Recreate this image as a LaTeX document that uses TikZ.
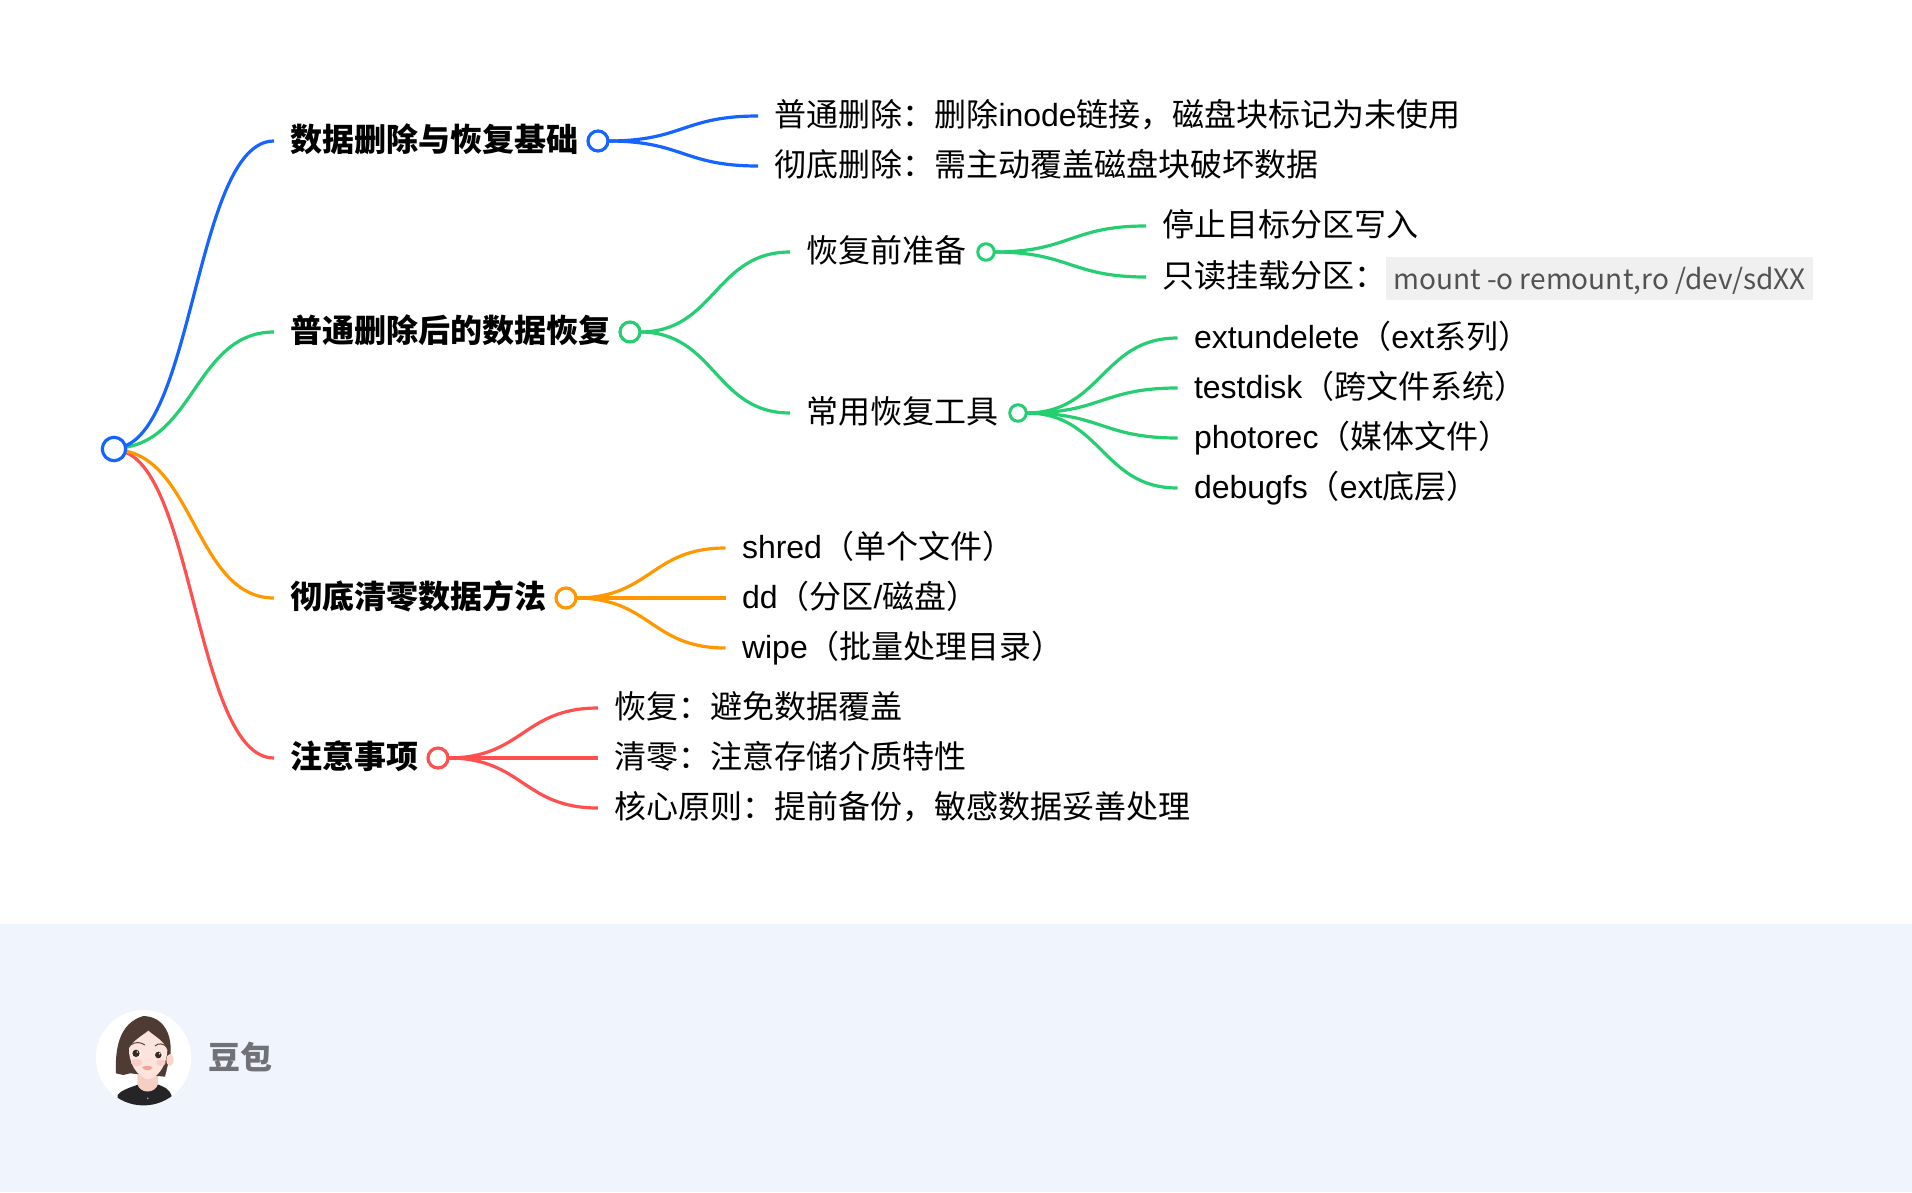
\documentclass[tikz,border=0pt]{standalone}
\usepackage{fontspec}
\usetikzlibrary{calc}
\setmainfont{Noto Sans CJK SC}
\newfontfamily\latfont{Liberation Sans}
\newcommand\lat[1]{{\latfont #1}}
\definecolor{cblue}{HTML}{1664FF}
\definecolor{cgreen}{HTML}{25CF71}
\definecolor{corange}{HTML}{FF9800}
\definecolor{cred}{HTML}{FF5050}
\definecolor{footbg}{HTML}{F0F4FC}
\definecolor{brandgray}{HTML}{707277}
\definecolor{avskin}{HTML}{F6CFC4}
\definecolor{avhair}{HTML}{4E3B34}
\definecolor{avear}{HTML}{FAD6CA}
\definecolor{avface}{HTML}{FCE3DB}
\definecolor{avblush}{HTML}{F9CDC7}
\definecolor{aveye}{HTML}{3A2824}
\definecolor{avbrow}{HTML}{5A443C}
\definecolor{avlip}{HTML}{EFA799}
\definecolor{avtop}{HTML}{252528}
\tikzset{
  lab/.style={anchor=west,inner ysep=0pt,inner xsep=16.5pt,outer sep=0pt,text height=27.5pt,text depth=6.5pt,font=\fontsize{32}{38}\selectfont,text=black},
  lab1/.style={lab,font=\fontsize{32}{38}\selectfont\bfseries,text height=27pt,text depth=7pt},
  dot/.style={circle,draw=#1,line width=3.2pt,fill=white,minimum size=20pt,inner sep=0pt,outer sep=0pt},
  smalldot/.style={circle,draw=#1,line width=3pt,fill=white,minimum size=16.5pt,inner sep=0pt,outer sep=0pt},
  link/.style={draw=#1,line width=3.2pt},
  sc/.style={to path={let \p1=(\tikztostart),\p2=(\tikztotarget) in .. controls ({0.5*\x1+0.5*\x2},\y1) and ({0.5*\x1+0.5*\x2},\y2) .. (\tikztotarget)}}
}
\begin{document}
\begin{tikzpicture}[x=1pt,y=-1pt]
\useasboundingbox (0,0) rectangle (1912,1192);
\fill[white] (0,0) rectangle (1912,1192);
\fill[footbg] (0,924.4) rectangle (1912,1192);

% dots
\coordinate (rootup) at (114,448);
\coordinate (rootdown) at (114,450);
\node[dot=cblue] (d1) at (598,141) {};
\node[dot=cgreen] (d2) at (630,332) {};
\node[dot=corange] (d3) at (566,598) {};
\node[dot=cred] (d4) at (438,758) {};
\node[smalldot=cgreen] (d21) at (986,252) {};
\node[smalldot=cgreen] (d22) at (1018,413) {};

% labels
\node[lab1] (t1) at (274,141) {数据删除与恢复基础};
\node[lab1] (t2) at (274,332) {普通删除后的数据恢复};
\node[lab1] (t3) at (274,598) {彻底清零数据方法};
\node[lab1] (t4) at (274,758) {注意事项};

\node[lab] (t11) at (758,116) {普通删除：删除\lat{inode}链接，磁盘块标记为未使用};
\node[lab] (t12) at (758,166) {彻底删除：需主动覆盖磁盘块破坏数据};
\node[lab] (t21) at (790,252) {恢复前准备};
\node[lab] (t22) at (790,413) {常用恢复工具};
\node[lab] (t211) at (1146,226) {停止目标分区写入};
\node[lab] (t212) at (1146,277) {只读挂载分区：};
\node[fill=black!6,anchor=west,inner xsep=7pt,inner ysep=0pt,minimum width=426pt,minimum height=43pt,text=black!68,text height=25pt,text depth=3pt,font=\fontsize{28}{34}\selectfont] (code) at (1386,278) {mount -o remount,ro /dev/sdXX};
\node[lab] (t221) at (1177.5,338) {\lat{extundelete}（\lat{ext}系列）};
\node[lab] (t222) at (1177.5,388) {\lat{testdisk}（跨文件系统）};
\node[lab] (t223) at (1177.5,438) {\lat{photorec}（媒体文件）};
\node[lab] (t224) at (1177.5,488) {\lat{debugfs}（\lat{ext}底层）};
\node[lab] (t31) at (725.5,548) {\lat{shred}（单个文件）};
\node[lab] (t32) at (725.5,598) {\lat{dd}（分区\lat{/}磁盘）};
\node[lab] (t33) at (725.5,648) {\lat{wipe}（批量处理目录）};
\node[lab] (t41) at (598,708) {恢复：避免数据覆盖};
\node[lab] (t42) at (598,758) {清零：注意存储介质特性};
\node[lab] (t43) at (598,808) {核心原则：提前备份，敏感数据妥善处理};

% connectors
\path[link=cred] (rootdown) to[sc] (t4.west);
\path[link=corange] (rootdown) to[sc] (t3.west);
\path[link=cgreen] (rootup) to[sc] (t2.west);
\path[link=cblue] (rootup) to[sc] (t1.west);
\node[dot=cblue,minimum size=23.4pt] (root) at (114,449) {};
\path[link=cblue] (d1.east) to[sc] (t11.west);
\path[link=cblue] (d1.east) to[sc] (t12.west);
\path[link=cgreen] (d2.east) to[sc] (t21.west);
\path[link=cgreen] (d2.east) to[sc] (t22.west);
\path[link=cgreen] (d21.east) to[sc] (t211.west);
\path[link=cgreen] (d21.east) to[sc] (t212.west);
\path[link=cgreen] (d22.east) to[sc] (t221.west);
\path[link=cgreen] (d22.east) to[sc] (t222.west);
\path[link=cgreen] (d22.east) to[sc] (t223.west);
\path[link=cgreen] (d22.east) to[sc] (t224.west);
\path[link=corange] (d3.east) to[sc] (t31.west);
\path[link=corange] (d3.east) to (t32.west);
\path[link=corange] (d3.east) to[sc] (t33.west);
\path[link=cred] (d4.east) to[sc] (t41.west);
\path[link=cred] (d4.east) to (t42.west);
\path[link=cred] (d4.east) to[sc] (t43.west);

% avatar
\fill[white] (143.5,1057.7) circle (47.7);
\begin{scope}
\clip (143.5,1057.7) circle (47.7);
\begin{scope}[shift={(80,990)},x=0.33333pt,y=-0.33333pt]
 \fill[avtop] (113,315) .. controls (125,298) and (160,290) .. (178,282) -- (230,282) .. controls (250,290) and (270,295) .. (276,322) -- (276,350) -- (113,350) -- cycle;
 \fill[avskin] (172,240) -- (172,282) .. controls (180,312) and (225,312) .. (234,282) -- (234,240) -- cycle;
 \fill[black!40] (203,325) circle (3);
 \fill[avhair] (108,250) .. controls (105,180) and (115,100) .. (190,78) .. controls (250,80) and (275,130) .. (272,190) -- (255,260) -- (150,250) -- (130,255) -- cycle;
 \fill[avear] (270,210) ellipse (11 and 18);
 \fill[avface] (147,175) .. controls (160,150) and (190,135) .. (205,122) .. controls (225,140) and (250,150) .. (262,180) .. controls (262,215) and (240,262) .. (205,268) .. controls (170,262) and (145,215) .. (147,175) -- cycle;
 \fill[avblush] (170,218) ellipse (17 and 11);
 \fill[avblush] (243,218) ellipse (14 and 10);
 \fill[white] (168,190) ellipse (16 and 11);
 \fill[white] (236,195) ellipse (13 and 10);
 \fill[aveye] (168,190) circle (11);
 \fill[aveye] (235,195) circle (10);
 \fill[white] (172,186) circle (2.5);
 \fill[white] (239,191) circle (2.5);
 \draw[avbrow,line width=1pt] (150,166) .. controls (165,155) and (180,155) .. (195,165);
 \draw[avbrow,line width=1pt] (225,168) .. controls (235,158) and (250,160) .. (262,172);
 \fill[avlip] (186,232) .. controls (195,226) and (210,226) .. (218,232) .. controls (212,244) and (195,244) .. (186,232) -- cycle;
\end{scope}
\end{scope}
\node[anchor=west,inner sep=0pt,text=brandgray,font=\fontsize{32}{36}\selectfont\bfseries] (brand) at (208,1057) {豆包};
\end{tikzpicture}
\end{document}
